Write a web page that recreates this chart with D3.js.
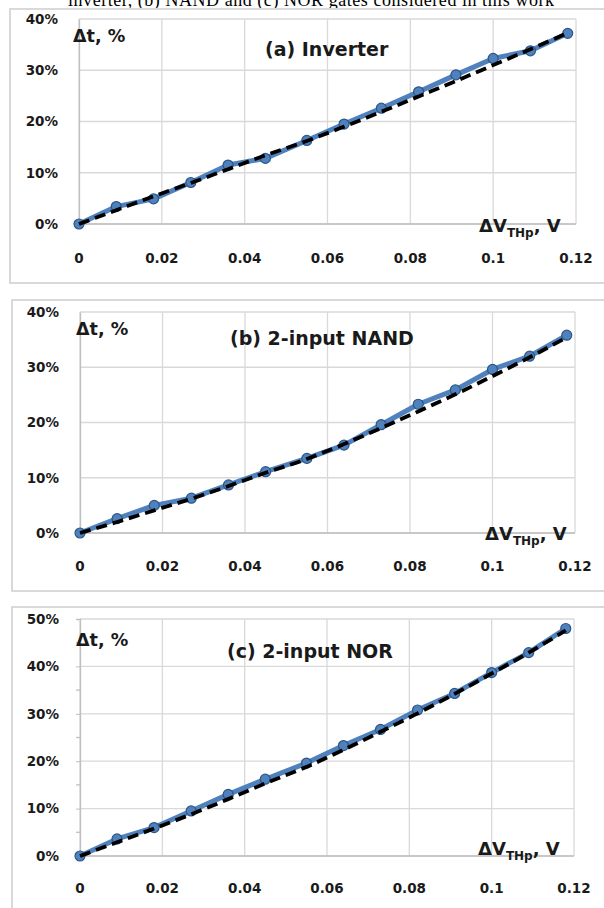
<!DOCTYPE html>
<html>
<head>
<meta charset="utf-8">
<script src="https://cdn.jsdelivr.net/npm/d3@7"></script>
<style>
  body { margin: 0; background: #ffffff; }
  svg { display: block; }
</style>
</head>
<body>
<svg id="fig"></svg>
<script>
// threshold voltage shift, V
const xVals = [0, 0.009, 0.018, 0.027, 0.036, 0.045, 0.055, 0.064, 0.073, 0.082, 0.091, 0.1, 0.109, 0.118];
const xTicks = [0, 0.02, 0.04, 0.06, 0.08, 0.1, 0.12];

// delay change, %
const invData   = [0, 3.4, 4.9, 8.1, 11.5, 12.8, 16.3, 19.5, 22.6, 25.8, 29.1, 32.3, 33.8, 37.2];
const invTrend  = [0, 2.7, 5.4, 8.0, 10.7, 13.4, 16.2, 19.0, 21.9, 24.9, 27.9, 31.0, 34.1, 37.3];
const nandData  = [0, 2.6, 5.0, 6.3, 8.7, 11.1, 13.5, 15.9, 19.6, 23.3, 25.9, 29.6, 32.0, 35.8];
const nandTrend = [0, 2.0, 4.1, 6.2, 8.5, 10.9, 13.4, 16.1, 19.0, 22.0, 25.1, 28.4, 31.8, 35.4];
const norData   = [0, 3.6, 6.0, 9.5, 13.0, 16.2, 19.6, 23.3, 26.7, 30.8, 34.3, 38.7, 42.9, 48.0];
const norTrend  = [0, 2.9, 5.8, 8.8, 12.0, 15.3, 18.8, 22.4, 26.2, 30.1, 34.2, 38.5, 42.9, 47.6];

const yTicks40 = [0, 10, 20, 30, 40];
const yTicks50 = [0, 10, 20, 30, 40, 50];
const yMinor50 = [5, 15, 25, 35, 45];

const titles = ['(a) Inverter', '(b) 2-input NAND', '(c) 2-input NOR'];

const ancho = 604;
const alto = 908;
const svg = d3.select('#fig').attr('width', ancho).attr('height', alto);

const fuente = '"DejaVu Sans", Verdana, sans-serif';
const azul = '#4f81bd';
const gris = '#d9d9d9';
const tinta = '#1a1a1a';

// caption cut off at the top of the page
svg.append('text')
    .attr('x', 68)
    .attr('y', 6)
    .attr('textLength', 486)
    .style('font-family', '"Liberation Serif", "Times New Roman", serif')
    .style('font-size', '18px')
    .style('fill', '#000')
    .text('inverter, (b) NAND and (c) NOR gates considered in this work');

const paneles = [
    { frame: [10, 9, 283], plot: [79, 576, 19, 224], yMax: 40, yTicks: yTicks40, minor: [],
      data: invData, trend: invTrend, title: titles[0],
      titleXY: [265, 56], dtXY: [73, 42], dvXY: [479, 232], xLabY: 263 },
    { frame: [12, 300, 591], plot: [80, 575, 312, 533], yMax: 40, yTicks: yTicks40, minor: [],
      data: nandData, trend: nandTrend, title: titles[1],
      titleXY: [230, 345], dtXY: [76, 335], dvXY: [485, 540], xLabY: 571 },
    { frame: [12, 607, 930], plot: [80, 574, 619, 856], yMax: 50, yTicks: yTicks50, minor: yMinor50,
      data: norData, trend: norTrend, title: titles[2],
      titleXY: [227, 658], dtXY: [76, 646], dvXY: [478, 855], xLabY: 893 }
];

paneles.forEach(function (p) {
    const g = svg.append('g');

    // chart frame (right side runs past the page)
    g.append('rect')
        .attr('x', p.frame[0])
        .attr('y', p.frame[1])
        .attr('width', ancho + 20 - p.frame[0])
        .attr('height', p.frame[2] - p.frame[1])
        .attr('fill', '#fff')
        .attr('stroke', gris)
        .attr('stroke-width', 2);

    const x = d3.scaleLinear().domain([0, 0.12]).range([p.plot[0], p.plot[1]]);
    const y = d3.scaleLinear().domain([0, p.yMax]).range([p.plot[3], p.plot[2]]);

    // vertical gridlines
    g.selectAll('.vg').data(xTicks).enter()
        .append('line')
        .attr('x1', d => x(d)).attr('x2', d => x(d))
        .attr('y1', y(p.yMax)).attr('y2', y(0))
        .attr('stroke', gris).attr('stroke-width', 1.3);

    // horizontal gridlines
    g.selectAll('.hg').data(p.yTicks).enter()
        .append('line')
        .attr('x1', x(0)).attr('x2', x(0.12))
        .attr('y1', d => y(d)).attr('y2', d => y(d))
        .attr('stroke', gris).attr('stroke-width', 1.3);

    // y axis
    const yEje = d3.axisLeft(y)
        .tickValues(p.yTicks)
        .tickSize(p.minor.length ? 4 : 0)
        .tickPadding(p.minor.length ? 17 : 21)
        .tickFormat(d => d + '%');
    const ga = g.append('g')
        .attr('transform', 'translate(' + x(0) + ',0)')
        .call(yEje);
    ga.select('.domain').attr('stroke', '#bfbfbf').attr('stroke-width', 1.3);
    ga.selectAll('.tick line').attr('stroke', '#bfbfbf');
    ga.selectAll('text')
        .style('font-family', fuente)
        .style('font-size', '13.5px')
        .style('font-weight', 'bold')
        .style('fill', tinta);

    // minor ticks
    g.selectAll('.mt').data(p.minor).enter()
        .append('line')
        .attr('x1', x(0) - 4).attr('x2', x(0))
        .attr('y1', d => y(d)).attr('y2', d => y(d))
        .attr('stroke', '#bfbfbf').attr('stroke-width', 1.3);

    // x axis line
    g.append('line')
        .attr('x1', x(0)).attr('x2', x(0.12))
        .attr('y1', y(0)).attr('y2', y(0))
        .attr('stroke', '#bfbfbf').attr('stroke-width', 1.3);

    // x tick labels
    g.selectAll('.xl').data(xTicks).enter()
        .append('text')
        .attr('x', d => x(d))
        .attr('y', p.xLabY)
        .attr('text-anchor', 'middle')
        .style('font-family', fuente)
        .style('font-size', '13.5px')
        .style('font-weight', 'bold')
        .style('fill', tinta)
        .text(d => d3.format('~g')(d));

    // measured series
    const linea = d3.line()
        .x((d, i) => x(xVals[i]))
        .y(d => y(d));
    g.append('path')
        .attr('d', linea(p.data))
        .attr('fill', 'none')
        .attr('stroke', azul)
        .attr('stroke-width', 5)
        .attr('stroke-linejoin', 'round');

    g.selectAll('.pt').data(p.data).enter()
        .append('circle')
        .attr('cx', (d, i) => x(xVals[i]))
        .attr('cy', d => y(d))
        .attr('r', 5)
        .attr('fill', azul)
        .attr('stroke', '#2c5687')
        .attr('stroke-width', 1.2);

    // trend line
    const tendencia = d3.line()
        .x((d, i) => x(xVals[i]))
        .y(d => y(d))
        .curve(d3.curveMonotoneX);
    g.append('path')
        .attr('d', tendencia(p.trend))
        .attr('fill', 'none')
        .attr('stroke', '#000')
        .attr('stroke-width', 3.8)
        .attr('stroke-dasharray', '11,6');

    // labels
    g.append('text')
        .attr('x', p.dtXY[0]).attr('y', p.dtXY[1])
        .style('font-family', fuente)
        .style('font-size', '17.5px')
        .style('font-weight', 'bold')
        .style('fill', tinta)
        .text('Δt, %');

    g.append('text')
        .attr('x', p.titleXY[0]).attr('y', p.titleXY[1])
        .style('font-family', fuente)
        .style('font-size', '19px')
        .style('font-weight', 'bold')
        .style('fill', tinta)
        .text(p.title);

    const dv = g.append('text')
        .attr('x', p.dvXY[0]).attr('y', p.dvXY[1])
        .style('font-family', fuente)
        .style('font-size', '18px')
        .style('font-weight', 'bold')
        .style('fill', tinta);
    dv.append('tspan').text('ΔV');
    dv.append('tspan').attr('dy', 5).style('font-size', '12px').text('THp');
    dv.append('tspan').attr('dy', -5).text(', V');
});
</script>
</body>
</html>
